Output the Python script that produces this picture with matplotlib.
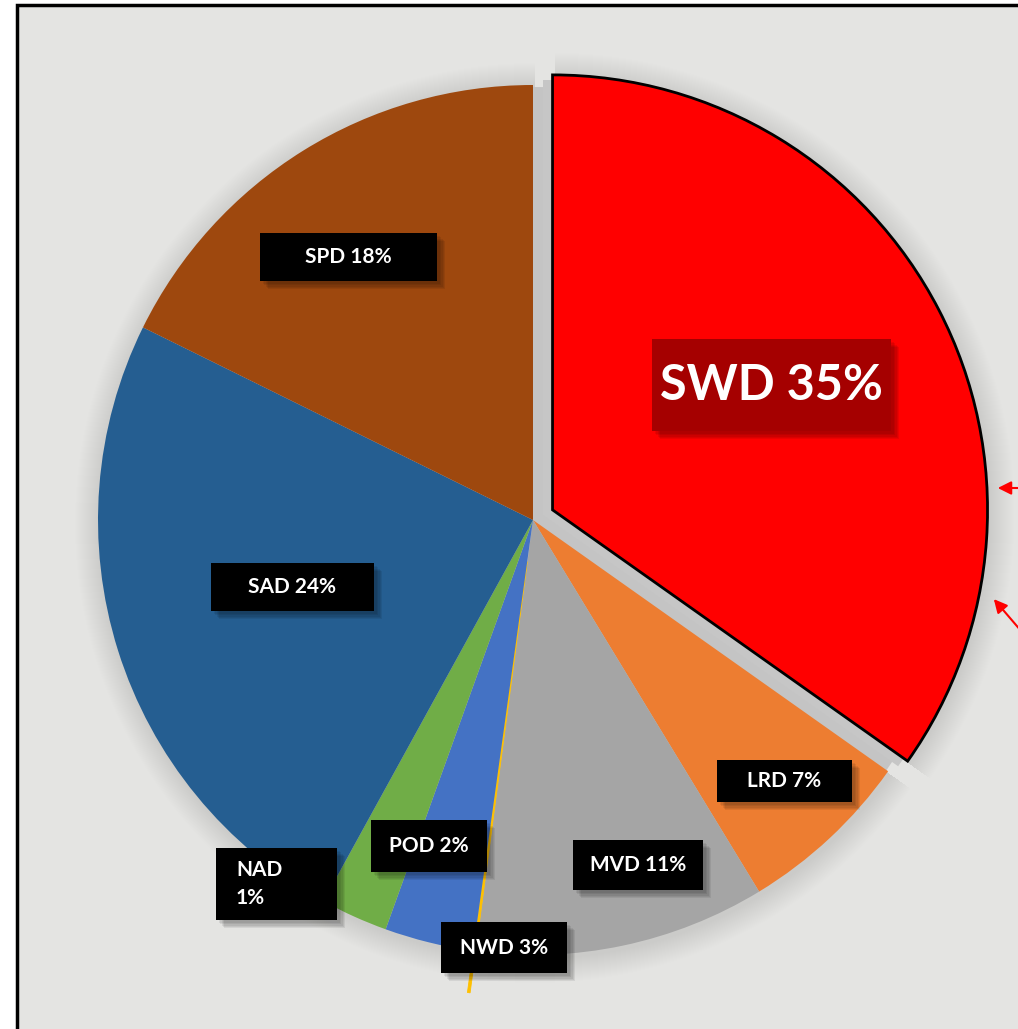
"""Pie chart of district shares, SWD slice pulled out."""
import matplotlib
matplotlib.use('Agg')
import matplotlib.pyplot as plt
from matplotlib.patches import Rectangle, Wedge, Circle, FancyBboxPatch
from matplotlib import patheffects as pe

# ─── Data (share of pie) ───
names  = ['SWD', 'LRD', 'MVD', 'NAD', 'NWD', 'POD', 'SAD', 'SPD']
shares = [34.8, 6.5, 10.8, 0.1, 3.3, 2.5, 24.3, 17.7]
pct    = [35, 7, 11, 1, 3, 2, 24, 18]
colors = ['#FF0000', '#ED7D31', '#A5A5A5', '#FFC000', '#4472C4', '#70AD47', '#255E91', '#9E480E']

W, H = 1018, 1029
BG = '#E4E4E2'
R = 435
explode = [22, 0, 0, 42, 0, 0, 0, 0]   # pixels

# label boxes in pixel coords from top-left: (x0, y0, x1, y1)
boxes = {
    'SWD': (652, 339, 891, 431),
    'SPD': (260, 233, 437, 281),
    'SAD': (211, 563, 374, 611),
    'LRD': (717, 760, 852, 802),
    'MVD': (573, 840, 703, 890),
    'POD': (371, 820, 487, 872),
    'NAD': (216, 848, 337, 920),
    'NWD': (441, 922, 567, 973),
}

fig = plt.figure(figsize=(W / 100, H / 100), dpi=100)
fig.patch.set_facecolor('white')
ax = fig.add_axes([0, 0, 1, 1])

# panel with black frame (cut off at right/bottom)
ax.add_patch(Rectangle((17, -20), W + 40, H - 5 + 20, facecolor=BG,
                       edgecolor='black', linewidth=2.5, zorder=0))

cx, cy = 533, H - 520
wedges, _ = ax.pie(shares, colors=colors, explode=explode, startangle=90,
                   counterclock=False, center=(cx, cy), radius=R, frame=True,
                   wedgeprops=dict(linewidth=0, zorder=3))
ax.set_xlim(0, W); ax.set_ylim(0, H)
ax.set_aspect('equal'); ax.axis('off')

# soft shadow behind the pie, darker gap where SWD was pulled out
ax.add_patch(Circle((cx, cy), R - 2, facecolor='#C4C4C4', linewidth=0, zorder=2))
w0 = wedges[0]
ax.add_patch(Wedge((cx + 10, cy + 5), R, w0.theta1, w0.theta2,
                   facecolor='#C6C6C6', linewidth=0, zorder=2))
for i, w in enumerate(wedges):
    if i == 3:
        continue
    for k in range(1, 26):
        ax.add_patch(Wedge((w.center[0] + 2, w.center[1] - 3), w.r + k,
                           w.theta1, w.theta2, facecolor='black',
                           alpha=0.005, linewidth=0, zorder=1))

wedges[0].set_edgecolor('black'); wedges[0].set_linewidth(2)
wedges[3].set_edgecolor('#FFC000'); wedges[3].set_linewidth(0.6)

# blurred drop shadow for the label boxes
shadow = [pe.SimplePatchShadow(offset=(d, -d), shadow_rgbFace='black', alpha=0.07)
          for d in (6, 5, 4, 3, 2)] + [pe.Normal()]
for i, n in enumerate(names):
    x0, y0, x1, y1 = boxes[n]
    face = '#A50000' if n == 'SWD' else 'black'
    ax.add_patch(FancyBboxPatch((x0, H - y1), x1 - x0, y1 - y0, boxstyle='square,pad=0',
                                facecolor=face, edgecolor='none', zorder=5,
                                path_effects=shadow))
    if n == 'SWD':
        ax.text((x0 + x1) / 2, H - (y0 + y1) / 2, f'{n} {pct[i]}%', color='white',
                fontsize=35, fontweight='bold', family='Lato', ha='center', va='center', zorder=6)
    elif n == 'NAD':
        ax.text(x0 + 20, H - (y0 + y1) / 2, f'{n}\n{pct[i]}%', color='white', linespacing=1.45,
                fontsize=15, fontweight='bold', family='Lato', ha='left', va='center', zorder=6)
    else:
        ax.text((x0 + x1) / 2, H - (y0 + y1) / 2, f'{n} {pct[i]}%', color='white',
                fontsize=15, fontweight='bold', family='Lato', ha='center', va='center', zorder=6)

# red arrows at the right edge
arrow = dict(arrowstyle='-|>,head_length=0.8,head_width=0.4', color='red', lw=1.5)
ax.annotate('', xy=(995, H - 488), xytext=(1022, H - 488), arrowprops=arrow, zorder=7)
ax.annotate('', xy=(992, H - 597), xytext=(1022, H - 632), arrowprops=arrow, zorder=7)

fig.savefig('out.png', dpi=100, facecolor=fig.get_facecolor())
